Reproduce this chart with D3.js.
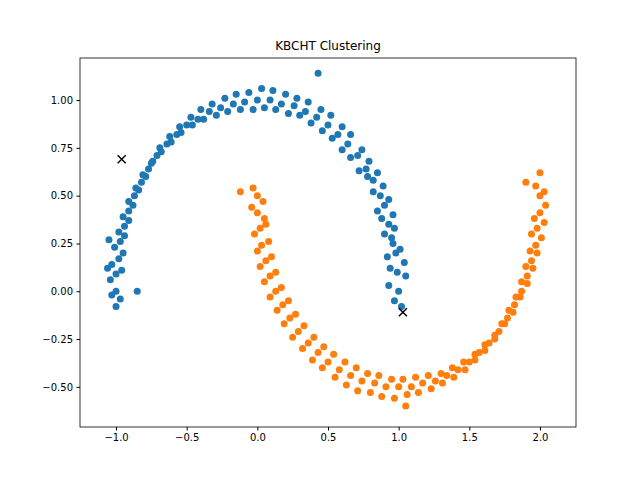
<!DOCTYPE html>
<html><head><meta charset="utf-8">
<script src="https://cdn.jsdelivr.net/npm/d3@7"></script>
<style>body{margin:0;background:#fff}text{font-family:"DejaVu Sans",sans-serif}</style>
</head><body><svg id="c" width="640" height="480"></svg>
<script>
const cluster0 = [[1.00,0.00],[0.97,-0.05],[1.05,0.08],[0.93,0.03],[1.02,-0.08],[0.99,0.10],[0.94,0.12],[1.04,0.15],[0.98,0.20],[0.92,0.18],[0.96,0.25],[1.01,0.22],[0.95,0.28],[0.90,0.30],[0.97,0.33],[0.93,0.35],[0.88,0.38],[0.96,0.40],[0.90,0.45],[0.85,0.42],[0.93,0.48],[0.87,0.50],[0.82,0.52],[0.89,0.55],[0.82,0.58],[0.78,0.60],[0.85,0.62],[0.77,0.64],[0.72,0.63],[0.79,0.68],[0.71,0.71],[0.66,0.70],[0.74,0.74],[0.64,0.77],[0.60,0.74],[0.66,0.82],[0.57,0.82],[0.53,0.80],[0.60,0.86],[0.50,0.87],[0.46,0.84],[0.52,0.92],[0.42,0.91],[0.38,0.88],[0.45,0.95],[0.34,0.94],[0.30,0.92],[0.36,0.99],[0.26,0.97],[0.22,0.93],[0.28,1.01],[0.17,0.98],[0.13,0.95],[0.20,1.03],[0.09,1.00],[0.05,0.96],[0.11,1.05],[0.00,1.00],[-0.03,0.95],[0.03,1.06],[0.43,1.14],[-0.09,0.99],[-0.12,0.95],[-0.06,1.04],[-0.17,0.98],[-0.21,0.94],[-0.15,1.03],[-0.26,0.96],[-0.29,0.92],[-0.23,1.01],[-0.34,0.94],[-0.38,0.90],[-0.32,0.98],[-0.42,0.90],[-0.46,0.87],[-0.40,0.95],[-0.50,0.87],[-0.54,0.83],[-0.47,0.91],[-0.57,0.82],[-0.61,0.78],[-0.55,0.86],[-0.64,0.77],[-0.68,0.73],[-0.62,0.81],[-0.71,0.71],[-0.75,0.67],[-0.69,0.75],[-0.77,0.64],[-0.81,0.61],[-0.74,0.68],[-0.82,0.57],[-0.86,0.54],[-0.79,0.60],[-0.87,0.50],[-0.91,0.47],[-0.84,0.53],[-0.91,0.42],[-0.95,0.39],[-0.88,0.45],[-0.94,0.34],[-0.98,0.31],[-0.91,0.37],[-0.97,0.26],[-1.01,0.23],[-0.94,0.29],[-1.05,0.27],[-0.98,0.17],[-1.03,0.14],[-0.95,0.20],[-1.00,0.09],[-1.04,0.06],[-0.96,0.11],[-1.06,0.12],[-1.00,0.00],[-0.97,-0.04],[-1.03,-0.02],[-1.00,-0.08],[-0.85,0.00]];
const cluster1 = [[0.00,0.50],[-0.03,0.54],[0.04,0.47],[-0.12,0.52],[0.00,0.41],[-0.04,0.44],[0.05,0.38],[0.02,0.33],[-0.02,0.30],[0.06,0.35],[0.03,0.24],[0.00,0.21],[0.08,0.26],[0.06,0.16],[0.02,0.13],[0.10,0.18],[0.09,0.08],[0.05,0.05],[0.13,0.10],[0.13,0.00],[0.09,-0.03],[0.17,0.02],[0.18,-0.07],[0.14,-0.10],[0.22,-0.05],[0.23,-0.14],[0.19,-0.17],[0.27,-0.12],[0.29,-0.21],[0.25,-0.24],[0.33,-0.18],[0.36,-0.27],[0.32,-0.30],[0.40,-0.24],[0.43,-0.32],[0.39,-0.36],[0.47,-0.29],[0.50,-0.37],[0.46,-0.40],[0.54,-0.33],[0.58,-0.41],[0.55,-0.45],[0.62,-0.37],[0.66,-0.44],[0.63,-0.49],[0.70,-0.40],[0.74,-0.47],[0.71,-0.52],[0.78,-0.43],[0.83,-0.48],[0.80,-0.53],[0.86,-0.44],[0.91,-0.50],[0.88,-0.55],[0.95,-0.46],[1.00,-0.50],[0.97,-0.56],[1.03,-0.46],[1.05,-0.60],[1.09,-0.50],[1.06,-0.54],[1.12,-0.45],[1.17,-0.48],[1.14,-0.53],[1.21,-0.44],[1.26,-0.47],[1.23,-0.51],[1.30,-0.43],[1.34,-0.44],[1.31,-0.48],[1.38,-0.40],[1.42,-0.41],[1.39,-0.45],[1.46,-0.37],[1.50,-0.37],[1.47,-0.41],[1.54,-0.33],[1.57,-0.32],[1.54,-0.36],[1.61,-0.28],[1.64,-0.27],[1.61,-0.31],[1.68,-0.23],[1.71,-0.21],[1.68,-0.25],[1.75,-0.17],[1.77,-0.14],[1.73,-0.17],[1.81,-0.11],[1.82,-0.07],[1.78,-0.10],[1.86,-0.03],[1.87,0.00],[1.83,-0.03],[1.91,0.04],[1.91,0.08],[1.87,0.05],[1.95,0.12],[1.94,0.16],[1.90,0.13],[1.98,0.20],[1.97,0.24],[1.93,0.21],[2.01,0.28],[1.98,0.33],[1.94,0.30],[2.03,0.36],[2.00,0.41],[1.96,0.38],[2.04,0.45],[2.00,0.50],[1.97,0.55],[2.03,0.52],[2.00,0.62],[1.90,0.57]];
const centers = [[-0.96,0.69],[1.03,-0.11]];
const xTicks = [-1.0,-0.5,0.0,0.5,1.0,1.5,2.0];
const yTicks = [-0.50,-0.25,0.00,0.25,0.50,0.75,1.00];
const colors = ["#1f77b4","#ff7f0e"];
const title = "KBCHT Clustering";

const svg = d3.select("#c");
const L=80,R=576,T=58,B=427;
const x = d3.scaleLinear().domain([-1.255,2.255]).range([L,R]);
const y = d3.scaleLinear().domain([-0.71,1.22]).range([B,T]);
const g = svg.append("g");
[cluster0,cluster1].forEach((pts,i)=>{
  g.selectAll(null).data(pts).enter().append("circle")
   .attr("cx",d=>x(d[0])).attr("cy",d=>y(d[1])).attr("r",3.5).attr("fill",colors[i]);
});
centers.forEach(c=>{
  const cx=x(c[0]),cy=y(c[1]),s=4;
  g.append("path").attr("d",`M${cx-s},${cy-s}L${cx+s},${cy+s}M${cx-s},${cy+s}L${cx+s},${cy-s}`)
   .attr("stroke","#000").attr("stroke-width",1.5);
});
const xa = svg.append("g").attr("transform",`translate(0,${B})`)
  .call(d3.axisBottom(x).tickValues(xTicks).tickFormat(d3.format(".1f")).tickSize(3.5).tickPadding(3.5));
const ya = svg.append("g").attr("transform",`translate(${L},0)`)
  .call(d3.axisLeft(y).tickValues(yTicks).tickFormat(d3.format(".2f")).tickSize(3.5).tickPadding(3.5));
[xa,ya].forEach(a=>{a.selectAll("text").attr("font-size",10).attr("fill","#000");a.select(".domain").remove();a.selectAll("line").attr("stroke","#000");});
svg.append("rect").attr("x",L).attr("y",T).attr("width",R-L).attr("height",B-T)
  .attr("fill","none").attr("stroke","#000").attr("stroke-width",0.8);
svg.append("text").attr("x",(L+R)/2).attr("y",T-8).attr("text-anchor","middle")
  .attr("font-size",12).text(title);
</script></body></html>
